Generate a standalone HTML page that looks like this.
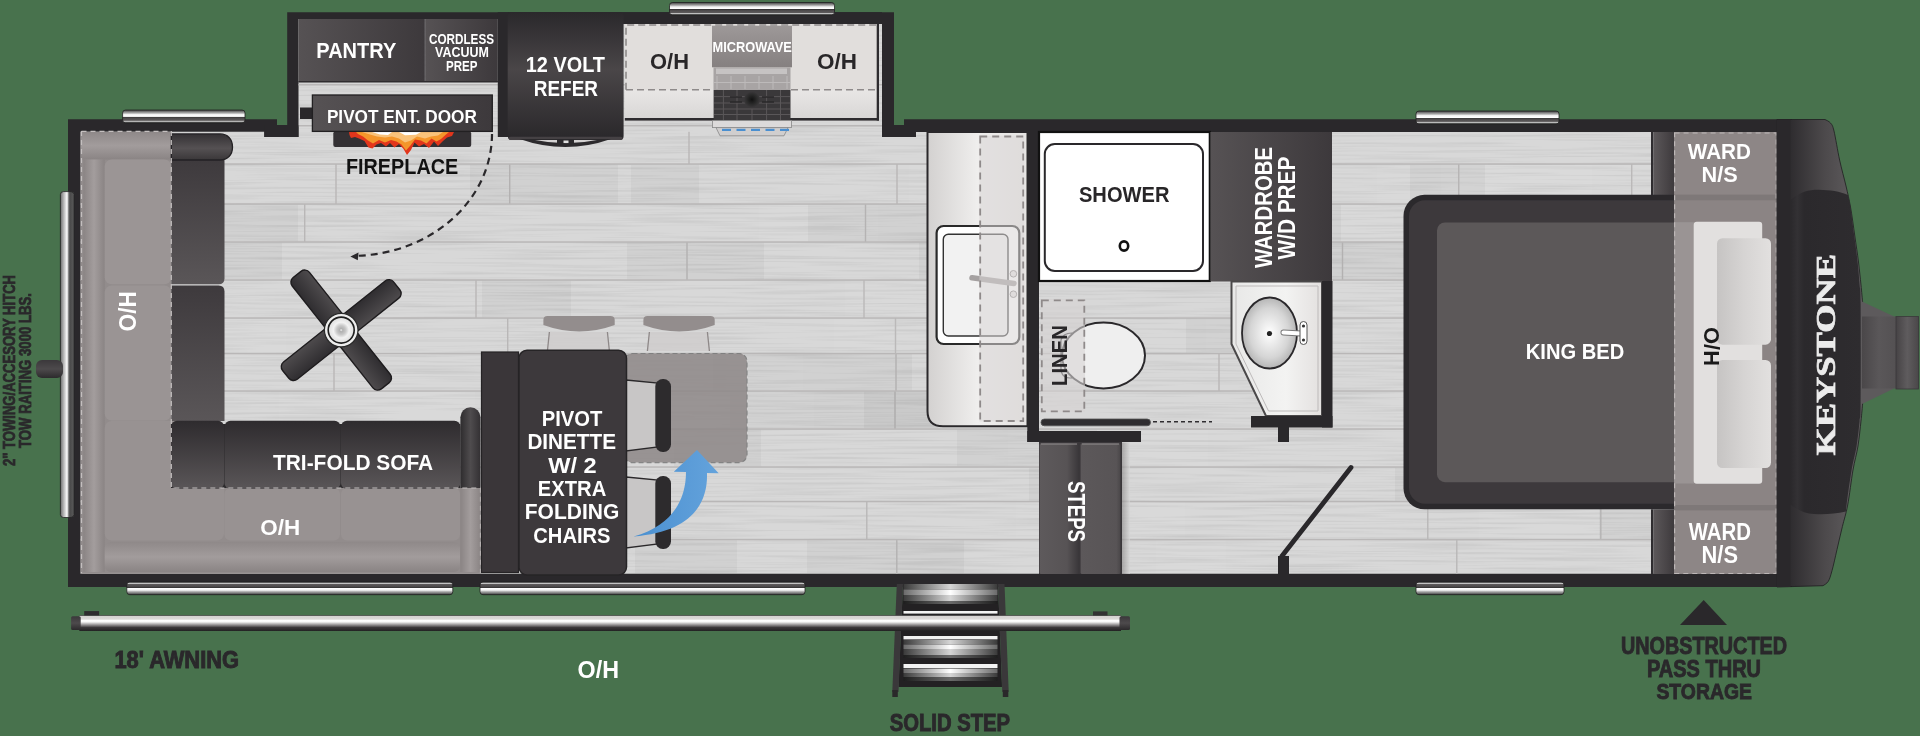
<!DOCTYPE html>
<html><head><meta charset="utf-8"><style>
html,body{margin:0;padding:0;background:#48724d;overflow:hidden;width:1920px;height:736px;}
svg{display:block;will-change:transform;}
</style></head><body><svg width="1920" height="736" viewBox="0 0 1920 736"><defs><linearGradient id="gWinH" x1="0" y1="0" x2="0" y2="1"><stop offset="0" stop-color="#333"/><stop offset="0.06" stop-color="#5a5a5a"/><stop offset="0.25" stop-color="#b5b5b5"/><stop offset="0.35" stop-color="#f2f2f2"/><stop offset="0.5" stop-color="#ffffff"/><stop offset="0.54" stop-color="#303030"/><stop offset="0.6" stop-color="#4a4748"/><stop offset="0.8" stop-color="#5c595a"/><stop offset="0.87" stop-color="#c8c8c8"/><stop offset="0.94" stop-color="#8a8a8a"/><stop offset="1" stop-color="#333"/></linearGradient><linearGradient id="gWinB" x1="0" y1="1" x2="0" y2="0"><stop offset="0" stop-color="#333"/><stop offset="0.06" stop-color="#5a5a5a"/><stop offset="0.25" stop-color="#b5b5b5"/><stop offset="0.35" stop-color="#f2f2f2"/><stop offset="0.5" stop-color="#ffffff"/><stop offset="0.54" stop-color="#303030"/><stop offset="0.6" stop-color="#4a4748"/><stop offset="0.8" stop-color="#5c595a"/><stop offset="0.87" stop-color="#c8c8c8"/><stop offset="0.94" stop-color="#8a8a8a"/><stop offset="1" stop-color="#333"/></linearGradient><linearGradient id="gWinV" x1="0" y1="0" x2="1" y2="0"><stop offset="0" stop-color="#6a6a6a"/><stop offset="0.15" stop-color="#9a9a9a"/><stop offset="0.5" stop-color="#ffffff"/><stop offset="0.6" stop-color="#8a8a8a"/><stop offset="0.7" stop-color="#4a4a4a"/><stop offset="0.92" stop-color="#555"/><stop offset="1" stop-color="#9a9a9a"/></linearGradient><linearGradient id="gDarkH" x1="0" y1="0" x2="1" y2="0"><stop offset="0" stop-color="#565254"/><stop offset="1" stop-color="#3d393c"/></linearGradient><linearGradient id="gRefer" x1="0" y1="0" x2="0" y2="1"><stop offset="0" stop-color="#2a282b"/><stop offset="0.45" stop-color="#4a4648"/><stop offset="1" stop-color="#29272a"/></linearGradient><linearGradient id="gSofa" x1="0" y1="0" x2="0" y2="1"><stop offset="0" stop-color="#2e2b2e"/><stop offset="1" stop-color="#5a5658"/></linearGradient><linearGradient id="gBack" x1="0" y1="0" x2="0" y2="1"><stop offset="0" stop-color="#3e3a3d"/><stop offset="1" stop-color="#5a5658"/></linearGradient><linearGradient id="gArmT" x1="0" y1="0" x2="0" y2="1"><stop offset="0" stop-color="#343134"/><stop offset="0.55" stop-color="#555153"/><stop offset="1" stop-color="#3a3739"/></linearGradient><linearGradient id="gArmV" x1="0" y1="0" x2="0" y2="1"><stop offset="0" stop-color="#3b383b"/><stop offset="0.5" stop-color="#4d4a4c"/><stop offset="1" stop-color="#2c2a2c"/></linearGradient><linearGradient id="gArmH" x1="0" y1="0" x2="1" y2="0"><stop offset="0" stop-color="#2e2c2e"/><stop offset="0.5" stop-color="#4f4c4e"/><stop offset="1" stop-color="#333033"/></linearGradient><linearGradient id="gCap" x1="0" y1="0" x2="1" y2="0"><stop offset="0" stop-color="#2b292c"/><stop offset="0.15" stop-color="#2e2c2f"/><stop offset="0.55" stop-color="#4c494b"/><stop offset="0.85" stop-color="#5c595b"/><stop offset="1" stop-color="#5e5b5d"/></linearGradient><linearGradient id="gPinM" x1="0" y1="0" x2="1" y2="0"><stop offset="0" stop-color="#4a4749"/><stop offset="0.5" stop-color="#5a5759"/><stop offset="1" stop-color="#545153"/></linearGradient><linearGradient id="gPin" x1="0" y1="0" x2="1" y2="0"><stop offset="0" stop-color="#3a373a"/><stop offset="1" stop-color="#6a6768"/></linearGradient><linearGradient id="gPin2" x1="0" y1="0" x2="1" y2="0"><stop offset="0" stop-color="#464345"/><stop offset="0.5" stop-color="#5f5c5e"/><stop offset="1" stop-color="#4a4749"/></linearGradient><linearGradient id="gPill" x1="0" y1="0" x2="1" y2="0"><stop offset="0" stop-color="#2a282b"/><stop offset="0.1" stop-color="#333134"/><stop offset="0.2" stop-color="#2b292c"/><stop offset="1" stop-color="#2e2c2f"/></linearGradient><linearGradient id="gAwn" x1="0" y1="0" x2="0" y2="1"><stop offset="0" stop-color="#222"/><stop offset="0.06" stop-color="#d5d2d1"/><stop offset="0.25" stop-color="#dcd9d8"/><stop offset="0.32" stop-color="#ffffff"/><stop offset="0.42" stop-color="#f8f8f8"/><stop offset="0.6" stop-color="#9a9798"/><stop offset="0.78" stop-color="#3a3739"/><stop offset="0.95" stop-color="#282628"/><stop offset="1" stop-color="#222"/></linearGradient><linearGradient id="gOHtop" x1="0" y1="0" x2="0" y2="1"><stop offset="0" stop-color="#8f8989"/><stop offset="0.5" stop-color="#a29c9c"/><stop offset="1" stop-color="#8a8484"/></linearGradient><linearGradient id="gOHleft" x1="0" y1="0" x2="1" y2="0"><stop offset="0" stop-color="#8a8484"/><stop offset="0.5" stop-color="#a39d9d"/><stop offset="1" stop-color="#8a8484"/></linearGradient><linearGradient id="gCounter" x1="0" y1="0" x2="1" y2="0"><stop offset="0" stop-color="#d3d1d0"/><stop offset="0.5" stop-color="#efeeed"/><stop offset="1" stop-color="#e6e4e3"/></linearGradient><linearGradient id="gMW" x1="0" y1="0" x2="0" y2="1"><stop offset="0" stop-color="#9d9898"/><stop offset="1" stop-color="#858080"/></linearGradient><linearGradient id="gStrip" x1="0" y1="0" x2="1" y2="0"><stop offset="0" stop-color="#5c585a"/><stop offset="1" stop-color="#3e3a3d"/></linearGradient><linearGradient id="gStep" x1="0" y1="0" x2="1" y2="0"><stop offset="0" stop-color="#5e5a5c"/><stop offset="0.7" stop-color="#575355"/><stop offset="1" stop-color="#3a373a"/></linearGradient><linearGradient id="gTread" x1="0" y1="0" x2="1" y2="0"><stop offset="0" stop-color="#3a3a3a"/><stop offset="0.25" stop-color="#8a8a8a"/><stop offset="0.5" stop-color="#f2f2f2"/><stop offset="0.75" stop-color="#8a8a8a"/><stop offset="1" stop-color="#3a3a3a"/></linearGradient><linearGradient id="gBlue" x1="0" y1="0" x2="1" y2="0"><stop offset="0" stop-color="#4a8fd0"/><stop offset="1" stop-color="#64a3dc"/></linearGradient><radialGradient id="gSink" cx="0.5" cy="0.5" r="0.5"><stop offset="0" stop-color="#ffffff"/><stop offset="0.7" stop-color="#d5d5d5"/><stop offset="1" stop-color="#b5b5b5"/></radialGradient><filter id="fGrain" x="0" y="0" width="100%" height="100%"><feTurbulence type="fractalNoise" baseFrequency="0.008 0.4" numOctaves="2" seed="4"/><feColorMatrix type="matrix" values="0 0 0 0 0  0 0 0 0 0  0 0 0 0 0  0 0 0 -2.2 1.25"/></filter><clipPath id="cFloor"><path d="M80.6,131.8 H264.3 V137 H298.5 V19 H882 V137 H916 V132 H1777.5 V573.8 H80.6 Z"/></clipPath><linearGradient id="gCtr" x1="0" y1="0" x2="0" y2="1"><stop offset="0" stop-color="#e8e6e5"/><stop offset="1" stop-color="#d9d7d6"/></linearGradient><radialGradient id="gBurner" cx="0.5" cy="0.5" r="0.5"><stop offset="0" stop-color="#111"/><stop offset="0.6" stop-color="#2a2a2a"/><stop offset="1" stop-color="#3a383a"/></radialGradient><linearGradient id="gVan" x1="0" y1="0" x2="1" y2="0"><stop offset="0" stop-color="#e8e8e7"/><stop offset="0.6" stop-color="#f3f3f2"/><stop offset="1" stop-color="#e3e0df"/></linearGradient><linearGradient id="gStepR" x1="0" y1="0" x2="1" y2="0"><stop offset="0" stop-color="#5c585a"/><stop offset="0.9" stop-color="#585456"/><stop offset="1" stop-color="#4a4749"/></linearGradient><linearGradient id="gShadowR" x1="0" y1="0" x2="1" y2="0"><stop offset="0" stop-color="#8a8888"/><stop offset="1" stop-color="#d8d8d8"/></linearGradient><linearGradient id="gPillow" x1="0" y1="0" x2="1" y2="0"><stop offset="0" stop-color="#c6c4c3"/><stop offset="0.5" stop-color="#d6d4d3"/><stop offset="1" stop-color="#e2e0df"/></linearGradient><linearGradient id="gTH1" x1="0" y1="0" x2="1" y2="0"><stop offset="0" stop-color="#1e1e1e"/><stop offset="0.5" stop-color="#6a6a6a"/><stop offset="1" stop-color="#1e1e1e"/></linearGradient><linearGradient id="gTH2" x1="0" y1="0" x2="1" y2="0"><stop offset="0" stop-color="#6a6a6a"/><stop offset="0.5" stop-color="#ffffff"/><stop offset="1" stop-color="#6a6a6a"/></linearGradient><linearGradient id="gTH3" x1="0" y1="0" x2="1" y2="0"><stop offset="0" stop-color="#3a3a3a"/><stop offset="0.5" stop-color="#d5d5d5"/><stop offset="1" stop-color="#3a3a3a"/></linearGradient><linearGradient id="gFanB" x1="0" y1="0" x2="0" y2="1"><stop offset="0" stop-color="#2f2d30"/><stop offset="1" stop-color="#4e4b4d"/></linearGradient><radialGradient id="gHub" cx="0.5" cy="0.5" r="0.5"><stop offset="0" stop-color="#f0f0f0"/><stop offset="0.12" stop-color="#b0b0b0"/><stop offset="0.35" stop-color="#c8c8c8"/><stop offset="0.6" stop-color="#f2f2f2"/><stop offset="1" stop-color="#dedede"/></radialGradient></defs><rect x="0.00" y="0.00" width="1920.00" height="736.00" fill="#48724d" /><path d="M68,119.3 H277 V125 H287.2 V12.2 H894 V125 H904 V119.3 H1792 V587 H68 Z" fill="#2a282b"/><path d="M80.6,131.8 H264.3 V137 H298.5 V19 H882 V137 H916 V132 H1777.5 V573.8 H80.6 Z" fill="#d8d8d8"/><g clip-path="url(#cFloor)"><rect x="80" y="19" width="1700" height="556" filter="url(#fGrain)" opacity="0.07"/></g><g><rect x="688.3" y="131.8" width="1.4" height="32.2" fill="#b9b7b7"/><rect x="80.6" y="163.3" width="1697" height="1.5" fill="#b9b7b7"/><rect x="335.3" y="164.0" width="1.4" height="40.0" fill="#b9b7b7"/><rect x="509.0" y="164.0" width="1.4" height="40.0" fill="#b9b7b7"/><rect x="896.3" y="164.0" width="1.4" height="40.0" fill="#b9b7b7"/><rect x="1458.0" y="164.0" width="1.4" height="40.0" fill="#b9b7b7"/><rect x="1631.0" y="164.0" width="1.4" height="40.0" fill="#b9b7b7"/><rect x="80.6" y="203.3" width="1697" height="1.5" fill="#b9b7b7"/><rect x="304.0" y="204.0" width="1.4" height="38.0" fill="#b9b7b7"/><rect x="864.8" y="204.0" width="1.4" height="38.0" fill="#b9b7b7"/><rect x="80.6" y="241.3" width="1697" height="1.5" fill="#b9b7b7"/><rect x="686.3" y="242.0" width="1.4" height="38.0" fill="#b9b7b7"/><rect x="1341.8" y="242.0" width="1.4" height="38.0" fill="#b9b7b7"/><rect x="80.6" y="279.3" width="1697" height="1.5" fill="#b9b7b7"/><rect x="475.3" y="280.0" width="1.4" height="38.0" fill="#b9b7b7"/><rect x="863.3" y="280.0" width="1.4" height="38.0" fill="#b9b7b7"/><rect x="80.6" y="317.3" width="1697" height="1.5" fill="#b9b7b7"/><rect x="507.0" y="318.0" width="1.4" height="35.5" fill="#b9b7b7"/><rect x="894.8" y="318.0" width="1.4" height="35.5" fill="#b9b7b7"/><rect x="80.6" y="352.8" width="1697" height="1.5" fill="#b9b7b7"/><rect x="333.3" y="353.5" width="1.4" height="37.5" fill="#b9b7b7"/><rect x="895.3" y="353.5" width="1.4" height="37.5" fill="#b9b7b7"/><rect x="1218.3" y="353.5" width="1.4" height="37.5" fill="#b9b7b7"/><rect x="80.6" y="390.3" width="1697" height="1.5" fill="#b9b7b7"/><rect x="894.3" y="391.0" width="1.4" height="38.0" fill="#b9b7b7"/><rect x="80.6" y="428.3" width="1697" height="1.5" fill="#b9b7b7"/><rect x="80.6" y="466.3" width="1697" height="1.5" fill="#b9b7b7"/><rect x="80.6" y="500.8" width="1697" height="1.5" fill="#b9b7b7"/><rect x="866.1" y="501.5" width="1.4" height="38.0" fill="#b9b7b7"/><rect x="1427.1" y="501.5" width="1.4" height="38.0" fill="#b9b7b7"/><rect x="1600.1" y="501.5" width="1.4" height="38.0" fill="#b9b7b7"/><rect x="80.6" y="538.8" width="1697" height="1.5" fill="#b9b7b7"/><rect x="896.1" y="539.5" width="1.4" height="34.5" fill="#b9b7b7"/><rect x="1456.1" y="539.5" width="1.4" height="34.5" fill="#b9b7b7"/><rect x="298.5" y="84" width="583.5" height="1.5" fill="#b9b7b7"/><rect x="298.5" y="125" width="583.5" height="1.5" fill="#b9b7b7"/><rect x="1616" y="318.8" width="123" height="33.9" fill="#000" opacity="0.03"/><rect x="1410" y="164.8" width="75" height="38.4" fill="#000" opacity="0.03"/><rect x="428" y="429.8" width="74" height="36.4" fill="#fff" opacity="0.03"/><rect x="470" y="164.8" width="148" height="38.4" fill="#000" opacity="0.03"/><rect x="281" y="467.8" width="96" height="32.9" fill="#000" opacity="0.03"/><rect x="1029" y="467.8" width="68" height="32.9" fill="#000" opacity="0.03"/><rect x="1471" y="429.8" width="106" height="36.4" fill="#000" opacity="0.03"/><rect x="271" y="429.8" width="109" height="36.4" fill="#000" opacity="0.03"/><rect x="1022" y="164.8" width="162" height="38.4" fill="#fff" opacity="0.03"/><rect x="967" y="164.8" width="70" height="38.4" fill="#000" opacity="0.03"/><rect x="414" y="467.8" width="169" height="32.9" fill="#fff" opacity="0.03"/><rect x="834" y="318.8" width="208" height="33.9" fill="#fff" opacity="0.03"/><rect x="482" y="280.8" width="89" height="36.4" fill="#000" opacity="0.03"/><rect x="1011" y="164.8" width="144" height="38.4" fill="#fff" opacity="0.03"/><rect x="807" y="540.3" width="157" height="32.9" fill="#000" opacity="0.03"/><rect x="909" y="164.8" width="86" height="38.4" fill="#fff" opacity="0.03"/><rect x="1592" y="204.8" width="127" height="36.4" fill="#000" opacity="0.03"/><rect x="1008" y="429.8" width="200" height="36.4" fill="#fff" opacity="0.03"/><rect x="1206" y="318.8" width="155" height="33.9" fill="#fff" opacity="0.03"/><rect x="1441" y="164.8" width="211" height="38.4" fill="#fff" opacity="0.03"/><rect x="1156" y="540.3" width="70" height="32.9" fill="#fff" opacity="0.03"/><rect x="1016" y="502.3" width="169" height="36.4" fill="#fff" opacity="0.03"/><rect x="1241" y="280.8" width="202" height="36.4" fill="#fff" opacity="0.03"/><rect x="656" y="391.8" width="158" height="36.4" fill="#fff" opacity="0.03"/><rect x="1325" y="242.8" width="81" height="36.4" fill="#000" opacity="0.03"/><rect x="713" y="354.3" width="199" height="35.9" fill="#000" opacity="0.03"/><rect x="808" y="204.8" width="148" height="36.4" fill="#000" opacity="0.03"/><rect x="1480" y="354.3" width="105" height="35.9" fill="#fff" opacity="0.03"/><rect x="1186" y="318.8" width="121" height="33.9" fill="#000" opacity="0.03"/><rect x="214" y="204.8" width="84" height="36.4" fill="#000" opacity="0.03"/><rect x="1426" y="391.8" width="89" height="36.4" fill="#fff" opacity="0.03"/><rect x="759" y="204.8" width="119" height="36.4" fill="#fff" opacity="0.03"/><rect x="1199" y="204.8" width="142" height="36.4" fill="#000" opacity="0.03"/><rect x="1537" y="391.8" width="185" height="36.4" fill="#fff" opacity="0.03"/><rect x="726" y="354.3" width="77" height="35.9" fill="#fff" opacity="0.03"/><rect x="189" y="242.8" width="93" height="36.4" fill="#000" opacity="0.03"/><rect x="631" y="164.8" width="68" height="38.4" fill="#000" opacity="0.03"/><rect x="325" y="467.8" width="76" height="32.9" fill="#fff" opacity="0.03"/><rect x="121" y="467.8" width="200" height="32.9" fill="#fff" opacity="0.03"/><rect x="1108" y="204.8" width="213" height="36.4" fill="#fff" opacity="0.03"/><rect x="279" y="391.8" width="196" height="36.4" fill="#fff" opacity="0.03"/><rect x="864" y="391.8" width="74" height="36.4" fill="#000" opacity="0.03"/><rect x="635" y="540.3" width="102" height="32.9" fill="#000" opacity="0.03"/><rect x="117" y="429.8" width="212" height="36.4" fill="#fff" opacity="0.03"/><rect x="1198" y="204.8" width="206" height="36.4" fill="#fff" opacity="0.03"/><rect x="1479" y="502.3" width="171" height="36.4" fill="#fff" opacity="0.03"/><rect x="674" y="429.8" width="87" height="36.4" fill="#000" opacity="0.03"/><rect x="957" y="429.8" width="140" height="36.4" fill="#000" opacity="0.03"/><rect x="1395" y="467.8" width="218" height="32.9" fill="#000" opacity="0.03"/><rect x="1406" y="242.8" width="178" height="36.4" fill="#000" opacity="0.03"/><rect x="919" y="242.8" width="117" height="36.4" fill="#000" opacity="0.03"/><rect x="845" y="280.8" width="91" height="36.4" fill="#fff" opacity="0.03"/><rect x="1390" y="391.8" width="176" height="36.4" fill="#fff" opacity="0.03"/><rect x="210" y="318.8" width="76" height="33.9" fill="#fff" opacity="0.03"/><rect x="627" y="242.8" width="137" height="36.4" fill="#000" opacity="0.03"/><rect x="1553" y="391.8" width="115" height="36.4" fill="#000" opacity="0.03"/><rect x="274" y="502.3" width="122" height="36.4" fill="#000" opacity="0.03"/><rect x="1520" y="391.8" width="129" height="36.4" fill="#fff" opacity="0.03"/><rect x="1377" y="164.8" width="215" height="38.4" fill="#fff" opacity="0.03"/><rect x="730" y="391.8" width="211" height="36.4" fill="#000" opacity="0.03"/><rect x="1689" y="204.8" width="64" height="36.4" fill="#fff" opacity="0.03"/><rect x="317" y="502.3" width="192" height="36.4" fill="#fff" opacity="0.03"/><rect x="1599" y="502.3" width="85" height="36.4" fill="#000" opacity="0.03"/></g><rect x="264.30" y="125.00" width="34.20" height="12.00" fill="#2a282b" /><rect x="882.00" y="125.00" width="34.00" height="12.00" fill="#2a282b" /><path d="M1777,119.5 L1825.0,119.5 C1825.9,120.1 1829.0,121.1 1830.5,123.0 C1832.0,124.9 1832.5,124.8 1834.0,131.0 C1835.5,137.2 1837.6,150.8 1839.6,160.0 C1841.6,169.2 1844.2,178.2 1846.0,186.0 C1847.8,193.8 1849.0,198.7 1850.5,207.0 C1852.0,215.3 1853.5,226.8 1854.8,236.0 C1856.1,245.2 1857.5,253.8 1858.5,262.0 C1859.5,270.2 1860.3,278.3 1861.0,285.0 C1861.7,291.7 1862.3,299.2 1862.6,302.0 L1862.6,404.0 C1862.3,406.8 1861.8,414.0 1861.0,421.0 C1860.2,428.0 1859.3,437.8 1858.0,446.0 C1856.7,454.2 1854.7,460.2 1853.0,470.0 C1851.3,479.8 1849.5,495.6 1847.7,505.0 C1845.9,514.4 1844.2,519.1 1842.4,526.5 C1840.6,533.9 1838.7,542.1 1837.0,549.5 C1835.3,556.9 1833.5,565.4 1832.0,570.7 C1830.5,576.0 1829.8,578.8 1828.3,581.3 C1826.8,583.8 1823.9,585.0 1823.0,585.7 L1777,587 Z" fill="url(#gCap)" stroke="#1e1d1f" stroke-width="0.8"/><path d="M1862,301.5 L1894,316.5 V388.5 L1862,404 Z" fill="#5d5a5c"/><rect x="1862.00" y="316.50" width="34.00" height="72.00" fill="url(#gPinM)" /><rect x="1896.00" y="316.50" width="22.60" height="72.50" fill="url(#gPin2)" stroke="#3a383a" stroke-width="0.8"/><path d="M1790.5,200 C1800,191.5 1810,189.6 1819,189.8 C1830,190 1840,191.5 1848,195 L1848.0,195.0 C1848.4,197.0 1849.5,200.2 1850.5,207.0 C1851.5,213.8 1853.1,226.8 1854.3,236.0 C1855.5,245.2 1856.7,253.8 1857.6,262.0 C1858.5,270.2 1859.1,278.3 1859.6,285.0 C1860.1,291.7 1860.4,282.2 1860.6,302.0 C1860.8,321.8 1860.8,384.2 1860.6,404.0 C1860.4,423.8 1860.3,414.0 1859.6,421.0 C1858.9,428.0 1857.9,437.8 1856.6,446.0 C1855.3,454.2 1853.3,460.2 1851.6,470.0 C1849.9,479.8 1847.4,498.1 1846.5,505.0 C1845.6,511.9 1846.1,510.4 1846.0,511.5 C1835,514 1825,514.5 1814,514 C1805,513.5 1797,510 1790.3,504.5 Z" fill="url(#gPill)"/><text transform="translate(1835.0,354.8) rotate(-90)" x="0" y="0" font-size="26.26" fill="#ebebeb" text-anchor="middle" font-family='"Liberation Serif", serif' font-weight="bold" textLength="201.6" lengthAdjust="spacingAndGlyphs" stroke="#ebebeb" stroke-width="0.7">KEYSTONE</text><rect x="298.50" y="19.00" width="125.80" height="63.00" fill="url(#gDarkH)" /><rect x="425.30" y="19.00" width="72.50" height="63.00" fill="url(#gDarkH)" /><rect x="424.30" y="19.00" width="1.00" height="63.00" fill="#2f2c2f" /><rect x="298.50" y="81.00" width="199.30" height="1.50" fill="#2f2c2f" /><text x="356.3" y="57.8" font-size="22.03" fill="#fff" text-anchor="middle" font-family='"Liberation Sans", sans-serif' font-weight="bold" textLength="80.0" lengthAdjust="spacingAndGlyphs" >PANTRY</text><text x="461.5" y="43.6" font-size="14.06" fill="#fff" text-anchor="middle" font-family='"Liberation Sans", sans-serif' font-weight="bold" textLength="65.0" lengthAdjust="spacingAndGlyphs" >CORDLESS</text><text x="461.9" y="57.3" font-size="14.06" fill="#fff" text-anchor="middle" font-family='"Liberation Sans", sans-serif' font-weight="bold" textLength="53.8" lengthAdjust="spacingAndGlyphs" >VACUUM</text><text x="461.8" y="71.0" font-size="14.06" fill="#fff" text-anchor="middle" font-family='"Liberation Sans", sans-serif' font-weight="bold" textLength="31.5" lengthAdjust="spacingAndGlyphs" >PREP</text><rect x="497.80" y="12.20" width="11.40" height="124.80" fill="#2a282b" /><rect x="508.00" y="12.20" width="374.00" height="11.80" fill="#2a282b" /><rect x="507.70" y="12.20" width="115.90" height="127.80" fill="url(#gRefer)" rx="4" /><rect x="508.50" y="136.70" width="114.30" height="3.30" fill="#454144" rx="2" /><path d="M519.6,139 Q565.3,155 611,139 Z" fill="#2c2a2d"/><path d="M535,140 Q566,146.5 597,140 Z" fill="#d4d2d2"/><rect x="557.00" y="139.80" width="17.00" height="3.80" fill="#2c2a2d" /><rect x="563.50" y="140.50" width="5.00" height="2.50" fill="#e0e0e0" /><text x="565.4" y="71.6" font-size="22.03" fill="#fff" text-anchor="middle" font-family='"Liberation Sans", sans-serif' font-weight="bold" textLength="79.2" lengthAdjust="spacingAndGlyphs" >12 VOLT</text><text x="565.9" y="96.1" font-size="22.03" fill="#fff" text-anchor="middle" font-family='"Liberation Sans", sans-serif' font-weight="bold" textLength="64.2" lengthAdjust="spacingAndGlyphs" >REFER</text><rect x="624.80" y="24.00" width="254.20" height="96.60" fill="#e1dedc" /><rect x="624.80" y="89.80" width="254.20" height="28.20" fill="url(#gCtr)" /><rect x="876.70" y="24.00" width="2.30" height="96.60" fill="#2e2c2f" /><rect x="624.80" y="118.00" width="254.20" height="2.60" fill="#2e2c2f" /><line x1="626" y1="89.8" x2="877" y2="89.8" stroke="#8e8a8a" stroke-width="1.6" stroke-dasharray="7,4"/><path d="M626,89.8 V25 H876" fill="none" stroke="#8e8a8a" stroke-width="1.6" stroke-dasharray="7,4"/><text x="669.5" y="68.6" font-size="21.30" fill="#282628" text-anchor="middle" font-family='"Liberation Sans", sans-serif' font-weight="bold" textLength="39.0" lengthAdjust="spacingAndGlyphs" >O/H</text><text x="837.0" y="68.6" font-size="21.30" fill="#282628" text-anchor="middle" font-family='"Liberation Sans", sans-serif' font-weight="bold" textLength="40.0" lengthAdjust="spacingAndGlyphs" >O/H</text><rect x="712.00" y="25.70" width="80.00" height="41.60" fill="url(#gMW)" /><rect x="713.50" y="67.30" width="77.00" height="22.70" fill="#a8a4a4" /><rect x="716.00" y="68.50" width="71.00" height="5.50" fill="#c6c3c3" /><line x1="717.0" y1="76" x2="717.0" y2="89" stroke="#bdbaba" stroke-width="1"/><line x1="731.0" y1="76" x2="731.0" y2="89" stroke="#bdbaba" stroke-width="1"/><line x1="745.0" y1="76" x2="745.0" y2="89" stroke="#bdbaba" stroke-width="1"/><line x1="759.0" y1="76" x2="759.0" y2="89" stroke="#bdbaba" stroke-width="1"/><line x1="773.0" y1="76" x2="773.0" y2="89" stroke="#bdbaba" stroke-width="1"/><line x1="787.0" y1="76" x2="787.0" y2="89" stroke="#bdbaba" stroke-width="1"/><line x1="714" y1="82.5" x2="790" y2="82.5" stroke="#bdbaba" stroke-width="1"/><rect x="713.60" y="90.00" width="76.90" height="30.50" fill="#3a383a" /><line x1="714" y1="96.6" x2="790" y2="96.6" stroke="#5a5759" stroke-width="1"/><line x1="714" y1="103" x2="790" y2="103" stroke="#5a5759" stroke-width="1"/><line x1="714" y1="109" x2="790" y2="109" stroke="#5a5759" stroke-width="1"/><line x1="714" y1="114.5" x2="790" y2="114.5" stroke="#5a5759" stroke-width="1"/><line x1="723.4" y1="90" x2="723.4" y2="96.6" stroke="#5a5759" stroke-width="1"/><line x1="737" y1="90" x2="737" y2="96.6" stroke="#5a5759" stroke-width="1"/><line x1="766.6" y1="90" x2="766.6" y2="96.6" stroke="#5a5759" stroke-width="1"/><line x1="780.5" y1="90" x2="780.5" y2="96.6" stroke="#5a5759" stroke-width="1"/><line x1="723.4" y1="96.6" x2="723.4" y2="103" stroke="#5a5759" stroke-width="1"/><line x1="737" y1="96.6" x2="737" y2="103" stroke="#5a5759" stroke-width="1"/><line x1="766.6" y1="96.6" x2="766.6" y2="103" stroke="#5a5759" stroke-width="1"/><line x1="780.5" y1="96.6" x2="780.5" y2="103" stroke="#5a5759" stroke-width="1"/><line x1="723.4" y1="103" x2="723.4" y2="109" stroke="#5a5759" stroke-width="1"/><line x1="737" y1="103" x2="737" y2="109" stroke="#5a5759" stroke-width="1"/><line x1="766.6" y1="103" x2="766.6" y2="109" stroke="#5a5759" stroke-width="1"/><line x1="780.5" y1="103" x2="780.5" y2="109" stroke="#5a5759" stroke-width="1"/><line x1="723.4" y1="109" x2="723.4" y2="114.5" stroke="#5a5759" stroke-width="1"/><line x1="737" y1="109" x2="737" y2="114.5" stroke="#5a5759" stroke-width="1"/><line x1="752" y1="109" x2="752" y2="114.5" stroke="#5a5759" stroke-width="1"/><line x1="766.6" y1="109" x2="766.6" y2="114.5" stroke="#5a5759" stroke-width="1"/><line x1="780.5" y1="109" x2="780.5" y2="114.5" stroke="#5a5759" stroke-width="1"/><line x1="723.4" y1="114.5" x2="723.4" y2="120.5" stroke="#5a5759" stroke-width="1"/><line x1="737" y1="114.5" x2="737" y2="120.5" stroke="#5a5759" stroke-width="1"/><line x1="752" y1="114.5" x2="752" y2="120.5" stroke="#5a5759" stroke-width="1"/><line x1="766.6" y1="114.5" x2="766.6" y2="120.5" stroke="#5a5759" stroke-width="1"/><line x1="780.5" y1="114.5" x2="780.5" y2="120.5" stroke="#5a5759" stroke-width="1"/><path d="M730,97 H742 M730,102 H742 M762,97 H774 M762,102 H774" stroke="#2a282a" stroke-width="1.6"/><circle cx="752" cy="99.5" r="8" fill="url(#gBurner)"/><rect x="712.50" y="120.50" width="79.00" height="7.10" fill="#dcdada" stroke="#888" stroke-width="0.8"/><path d="M716,127.6 H788 L784,135.8 H720 Z" fill="#d0cece" stroke="#888" stroke-width="0.8"/><rect x="722.00" y="128.80" width="9.00" height="2.20" fill="#4a8fd0" /><rect x="736.50" y="128.80" width="9.00" height="2.20" fill="#4a8fd0" /><rect x="751.00" y="128.80" width="9.00" height="2.20" fill="#4a8fd0" /><rect x="765.50" y="128.80" width="9.00" height="2.20" fill="#4a8fd0" /><rect x="780.00" y="128.80" width="9.00" height="2.20" fill="#4a8fd0" /><text x="752.2" y="51.7" font-size="13.77" fill="#fff" text-anchor="middle" font-family='"Liberation Sans", sans-serif' font-weight="bold" textLength="79.2" lengthAdjust="spacingAndGlyphs" >MICROWAVE</text><rect x="300.00" y="107.50" width="12.40" height="11.50" fill="#2a282b" /><rect x="333.30" y="131.40" width="137.90" height="15.60" fill="#343134" rx="2" /><g><path d="M349,132 L454,132 L452,136 L447,137.5 L443,141 L438,146 L434,141.5 L429,148 L424,144 L419,146.5 L414.5,142.5 L411,150 L407,155 L403.5,149 L399,144 L394.5,147.5 L390,143 L386,146.5 L381,143 L376.5,144.5 L372.5,148.5 L368.5,147.5 L364.5,141 L359,138.5 L355,137 L351,138 L349.5,135 Z" fill="#e2361c"/><path d="M356,132 L449,132 L446,134.5 L441,139 L436.5,141.5 L431.5,138.5 L426.5,143.5 L421,140.5 L415,139.5 L410,146 L406,150.5 L401.5,144.5 L396.5,141.5 L391,140 L385,142.5 L379,140 L373,143.5 L368,140.5 L363,136.5 L358,134 Z" fill="#f4962b"/><path d="M362,132 L443,132 L438,135.5 L431,136.5 L425,138.5 L417,136.5 L411,140.5 L405,142.5 L399,138.5 L392,136.5 L385,137.5 L377,136.5 L370,134.5 Z" fill="#f9c27a"/><path d="M372,132 L392,132 L388,135 L380,134.5 Z M399,132 L421,132 L416,134.8 L405,135.2 Z" fill="#ffffff"/></g><rect x="312.40" y="95.00" width="179.90" height="36.40" fill="url(#gDarkH)" stroke="#222022" stroke-width="1.3"/><text x="401.9" y="123.4" font-size="18.41" fill="#fff" text-anchor="middle" font-family='"Liberation Sans", sans-serif' font-weight="bold" textLength="150.0" lengthAdjust="spacingAndGlyphs" >PIVOT ENT. DOOR</text><text x="402.1" y="173.5" font-size="21.45" fill="#111111" text-anchor="middle" font-family='"Liberation Sans", sans-serif' font-weight="bold" textLength="112.3" lengthAdjust="spacingAndGlyphs" >FIREPLACE</text><path d="M492,134 A140,122 0 0 1 357,255.8" fill="none" stroke="#2a282b" stroke-width="2.2" stroke-dasharray="7,5"/><path d="M350.4,256.5 L358.5,252.5 L357.8,260.2 Z" fill="#2a282b"/><g><path d="M80.6,131.8 H171.3 V488 H480.5 V573.8 H80.6 Z" fill="#928c8c"/></g><rect x="81.00" y="132.00" width="90.30" height="27.50" fill="url(#gOHtop)" /><rect x="83.30" y="159.50" width="21.40" height="412.50" fill="url(#gOHleft)" /><rect x="104.70" y="159.50" width="66.60" height="124.80" fill="#9b9595" rx="7" /><rect x="104.70" y="285.50" width="66.60" height="135.00" fill="#9a9494" rx="7" /><rect x="104.70" y="421.00" width="119.30" height="119.60" fill="#989292" rx="7" /><rect x="224.50" y="488.00" width="115.50" height="52.60" fill="#989292" rx="6" /><rect x="341.00" y="488.00" width="119.00" height="52.60" fill="#989292" rx="6" /><rect x="104.70" y="542.00" width="355.30" height="30.00" fill="url(#gOHtop)" rx="6" /><rect x="460.40" y="488.00" width="20.10" height="84.00" fill="url(#gOHleft)" /><path d="M171.3,159.5 H224.5 V278.3 Q224.5,284.3 218.5,284.3 H171.3 Z" fill="url(#gBack)"/><path d="M171.3,285.5 H218.5 Q224.5,285.5 224.5,291.5 V421 H171.3 Z" fill="url(#gBack)"/><path d="M171.3,133.9 H220 C227.5,133.9 232.5,139 232.5,147 C232.5,155 227.5,160 220,160 H171.3 Z" fill="url(#gArmT)" stroke="#232124" stroke-width="1.3"/><rect x="171.00" y="424.00" width="289.40" height="64.00" fill="#2c2a2c" /><rect x="171.00" y="420.80" width="53.00" height="68.20" fill="url(#gSofa)" rx="6" /><rect x="224.50" y="420.80" width="116.00" height="68.20" fill="url(#gSofa)" rx="6" /><rect x="341.00" y="420.80" width="119.40" height="68.20" fill="url(#gSofa)" rx="6" /><path d="M460.4,488 V417.3 A10,10 0 0 1 480.5,417.3 V488 Z" fill="url(#gArmH)"/><path d="M81.5,131 V573 M171.3,131 V488 H480.5 V573" fill="none" stroke="#c4bfbf" stroke-width="1.2" stroke-dasharray="5,4"/><path d="M81.5,131.3 H171.3" fill="none" stroke="#c4bfbf" stroke-width="1.2" stroke-dasharray="5,4"/><text x="353.1" y="469.7" font-size="22.32" fill="#fff" text-anchor="middle" font-family='"Liberation Sans", sans-serif' font-weight="bold" textLength="160.2" lengthAdjust="spacingAndGlyphs" >TRI-FOLD SOFA</text><text x="280.2" y="534.5" font-size="21.16" fill="#fff" text-anchor="middle" font-family='"Liberation Sans", sans-serif' font-weight="bold" textLength="39.9" lengthAdjust="spacingAndGlyphs" >O/H</text><text transform="translate(136.2,311.2) rotate(-90)" x="0" y="0" font-size="23.04" fill="#fff" text-anchor="middle" font-family='"Liberation Sans", sans-serif' font-weight="bold" textLength="40.4" lengthAdjust="spacingAndGlyphs" >O/H</text><path d="M549.4,332 L547.4,351 H609.4 L607.4,332 Z" fill="#cfcdcd" opacity="0.8"/><path d="M549.4,332 L547.4,351 M607.4,332 L609.4,351" stroke="#8e8888" stroke-width="1.3"/><path d="M543.4,320 Q543.4,316 547.4,316 H610.4 Q614.6999999999999,316 614.6999999999999,320 V325 Q579.4,338 543.4,325 Z" fill="#938d8d"/><path d="M649.4,332 L647.4,351 H709.4 L707.4,332 Z" fill="#cfcdcd" opacity="0.8"/><path d="M649.4,332 L647.4,351 M707.4,332 L709.4,351" stroke="#8e8888" stroke-width="1.3"/><path d="M643.4,320 Q643.4,316 647.4,316 H710.4 Q714.6999999999999,316 714.6999999999999,320 V325 Q679.4,338 643.4,325 Z" fill="#938d8d"/><rect x="624.50" y="353.50" width="122.50" height="109.10" fill="#8e8888" rx="8" opacity="0.85" stroke="#777" stroke-width="1.2" stroke-dasharray="5,3"/><rect x="481.50" y="352.00" width="37.00" height="220.50" fill="#3a3639" stroke="#252325" stroke-width="1.2"/><path d="M626,380 L658,383 V447 L626,451 Z" fill="#c8c6c6" stroke="#2a282a" stroke-width="1.3"/><rect x="655.30" y="379.00" width="15.70" height="73.00" fill="#2d2b2d" rx="7.5" /><path d="M626,477 L658,480 V544 L626,548 Z" fill="#c8c6c6" stroke="#2a282a" stroke-width="1.3"/><rect x="655.30" y="476.00" width="15.70" height="73.00" fill="#2d2b2d" rx="7.5" /><rect x="519.00" y="350.30" width="107.50" height="224.70" fill="#3d393c" rx="8" stroke="#262426" stroke-width="1.5"/><text x="572.0" y="426.0" font-size="21.45" fill="#fff" text-anchor="middle" font-family='"Liberation Sans", sans-serif' font-weight="bold" textLength="60.7" lengthAdjust="spacingAndGlyphs" >PIVOT</text><text x="571.7" y="449.3" font-size="21.45" fill="#fff" text-anchor="middle" font-family='"Liberation Sans", sans-serif' font-weight="bold" textLength="88.6" lengthAdjust="spacingAndGlyphs" >DINETTE</text><text x="572.5" y="472.6" font-size="21.45" fill="#fff" text-anchor="middle" font-family='"Liberation Sans", sans-serif' font-weight="bold" textLength="48.5" lengthAdjust="spacingAndGlyphs" >W/ 2</text><text x="572.0" y="495.9" font-size="21.45" fill="#fff" text-anchor="middle" font-family='"Liberation Sans", sans-serif' font-weight="bold" textLength="68.5" lengthAdjust="spacingAndGlyphs" >EXTRA</text><text x="572.0" y="519.2" font-size="21.45" fill="#fff" text-anchor="middle" font-family='"Liberation Sans", sans-serif' font-weight="bold" textLength="94.5" lengthAdjust="spacingAndGlyphs" >FOLDING</text><text x="571.9" y="542.5" font-size="21.45" fill="#fff" text-anchor="middle" font-family='"Liberation Sans", sans-serif' font-weight="bold" textLength="77.2" lengthAdjust="spacingAndGlyphs" >CHAIRS</text><path d="M633.5,536.5 C690,532 708,505 707,473 L718.7,473.2 L697,450 L673.8,471.8 L686,472 C686,500 672,526 633.5,536.5 Z" fill="url(#gBlue)"/><path d="M927.5,132 H1027.5 V426.3 H943 Q927.5,426.3 927.5,411 Z" fill="url(#gCounter)" stroke="#2a282b" stroke-width="2"/><rect x="936.60" y="226.00" width="82.70" height="118.00" fill="#ffffff" rx="7" stroke="#2a2a2a" stroke-width="2.2"/><rect x="943.30" y="234.30" width="64.70" height="101.70" fill="#f2f2f2" rx="5" stroke="#333" stroke-width="1.4"/><line x1="972" y1="277.8" x2="1014" y2="283.5" stroke="#a5a1a1" stroke-width="5.5" stroke-linecap="round"/><circle cx="1013.4" cy="273.8" r="3.3" fill="#e6e4e4" stroke="#8a8686" stroke-width="1"/><circle cx="1013.4" cy="294.2" r="3.3" fill="#e6e4e4" stroke="#8a8686" stroke-width="1"/><rect x="979.40" y="135.70" width="44.60" height="285.80" fill="#d9d6d5" opacity="0.55"/><rect x="980.2" y="136.5" width="43" height="284.5" fill="none" stroke="#8f8a8a" stroke-width="1.8" stroke-dasharray="7,5"/><rect x="1027.30" y="132.00" width="11.70" height="310.00" fill="#2a282b" /><rect x="1027.30" y="431.00" width="113.70" height="11.00" fill="#2a282b" /><rect x="1039.00" y="132.00" width="170.80" height="149.00" fill="#ffffff" stroke="#111" stroke-width="2.2"/><rect x="1044.80" y="144.00" width="158.20" height="127.00" fill="none" rx="10" stroke="#2a282b" stroke-width="2"/><text x="1124.2" y="201.8" font-size="21.16" fill="#282628" text-anchor="middle" font-family='"Liberation Sans", sans-serif' font-weight="bold" textLength="90.5" lengthAdjust="spacingAndGlyphs" >SHOWER</text><ellipse cx="1124" cy="246" rx="4.2" ry="4.6" fill="none" stroke="#111" stroke-width="2.6"/><rect x="1210.50" y="132.00" width="121.50" height="149.50" fill="url(#gDarkH)" /><text transform="translate(1271.5,207.5) rotate(-90)" x="0" y="0" font-size="23.19" fill="#fff" text-anchor="middle" font-family='"Liberation Sans", sans-serif' font-weight="bold" textLength="121.0" lengthAdjust="spacingAndGlyphs" >WARDROBE</text><text transform="translate(1295.4,208.1) rotate(-90)" x="0" y="0" font-size="23.04" fill="#fff" text-anchor="middle" font-family='"Liberation Sans", sans-serif' font-weight="bold" textLength="102.8" lengthAdjust="spacingAndGlyphs" >W/D PREP</text><path d="M1231.5,281.5 H1322 V416 H1266 L1231.5,344 Z" fill="url(#gVan)" stroke="#4a4849" stroke-width="2"/><path d="M1236,286 H1318 V411 H1268.5 L1236,344 Z" fill="none" stroke="#bdbaba" stroke-width="1"/><rect x="1322.00" y="281.00" width="10.50" height="146.50" fill="#2a282b" /><rect x="1251.00" y="416.00" width="81.50" height="11.50" fill="#2a282b" /><rect x="1278.00" y="427.00" width="11.00" height="15.00" fill="#2a282b" /><ellipse cx="1269.5" cy="333" rx="27.5" ry="35.5" fill="url(#gSink)" stroke="#2a282b" stroke-width="1.8"/><circle cx="1269.5" cy="333.5" r="2.6" fill="#222"/><line x1="1283.5" y1="332.5" x2="1301" y2="333.5" stroke="#777" stroke-width="6" stroke-linecap="round"/><line x1="1283.5" y1="332.5" x2="1301" y2="333.5" stroke="#fff" stroke-width="4.2" stroke-linecap="round"/><rect x="1300.00" y="321.50" width="7.00" height="23.00" fill="#fff" rx="3.5" stroke="#555" stroke-width="1"/><circle cx="1303.5" cy="326" r="1.6" fill="#333"/><circle cx="1303.5" cy="340" r="1.6" fill="#333"/><path d="M1061,340 V371 Q1063,378 1070,378 H1072 V333 Q1063,333 1061,340 Z" fill="#dcdcdc" stroke="#2a282b" stroke-width="1.2"/><ellipse cx="1103.5" cy="355.5" rx="41.5" ry="33" fill="#efefef" stroke="#2a282b" stroke-width="2"/><rect x="1041.00" y="299.50" width="44.00" height="112.50" fill="#d7d4d3" opacity="0.6"/><rect x="1041.8" y="300.3" width="42.5" height="111" fill="none" stroke="#8f8a8a" stroke-width="1.8" stroke-dasharray="7,5"/><text transform="translate(1066.8,355.5) rotate(-90)" x="0" y="0" font-size="22.46" fill="#282628" text-anchor="middle" font-family='"Liberation Sans", sans-serif' font-weight="bold" textLength="61.0" lengthAdjust="spacingAndGlyphs" >LINEN</text><rect x="1041.00" y="419.00" width="109.50" height="6.80" fill="#2f2d30" rx="3.4" stroke="#555" stroke-width="0.8"/><line x1="1153" y1="421.8" x2="1212" y2="421.8" stroke="#2f2d30" stroke-width="1.5" stroke-dasharray="4,3"/><rect x="1039.00" y="442.00" width="83.00" height="132.00" fill="#3a373a" /><rect x="1122.00" y="442.50" width="8.00" height="131.50" fill="url(#gShadowR)" opacity="0.6"/><rect x="1039.60" y="443.20" width="39.10" height="130.80" fill="url(#gStep)" rx="1.5" /><rect x="1080.60" y="443.20" width="39.80" height="130.80" fill="url(#gStepR)" rx="1.5" /><rect x="1041.00" y="443.50" width="36.00" height="1.10" fill="#8a8687" /><rect x="1082.00" y="443.50" width="37.00" height="1.10" fill="#8a8687" /><text transform="translate(1067.7,511.5) rotate(90)" x="0" y="0" font-size="24.78" fill="#fff" text-anchor="middle" font-family='"Liberation Sans", sans-serif' font-weight="bold" textLength="61.0" lengthAdjust="spacingAndGlyphs" >STEPS</text><line x1="1282" y1="556" x2="1351" y2="467.5" stroke="#2a282b" stroke-width="4.8" stroke-linecap="round"/><rect x="1278.00" y="556.00" width="11.00" height="18.00" fill="#2a282b" /><rect x="1651.00" y="132.00" width="2.40" height="64.00" fill="#2f2d30" /><rect x="1653.40" y="132.00" width="20.60" height="64.00" fill="url(#gStrip)" /><rect x="1651.00" y="509.30" width="2.40" height="64.70" fill="#2f2d30" /><rect x="1653.40" y="509.30" width="20.60" height="64.70" fill="url(#gStrip)" /><rect x="1403.50" y="194.80" width="356.50" height="314.50" fill="#2b292c" rx="21" /><rect x="1409.00" y="200.30" width="351.00" height="303.50" fill="#3d393c" rx="16" /><rect x="1437.00" y="222.50" width="263.00" height="259.70" fill="#5c5859" rx="8" /><text x="1575.0" y="359.1" font-size="22.03" fill="#fff" text-anchor="middle" font-family='"Liberation Sans", sans-serif' font-weight="bold" textLength="98.4" lengthAdjust="spacingAndGlyphs" >KING BED</text><rect x="1674.00" y="132.00" width="103.00" height="442.00" fill="#8b8484" /><rect x="1674.00" y="132.00" width="103.00" height="62.70" fill="#8d8686" /><rect x="1674.00" y="510.30" width="103.00" height="63.70" fill="#8d8686" /><rect x="1674.00" y="194.70" width="103.00" height="5.60" fill="#7e7878" /><rect x="1674.00" y="505.00" width="103.00" height="5.30" fill="#7e7878" /><rect x="1674.00" y="222.20" width="20.00" height="261.30" fill="#9a9494" /><rect x="1693.70" y="221.80" width="68.50" height="262.00" fill="#e2e0df" rx="3" /><rect x="1717.00" y="238.20" width="54.00" height="106.50" fill="url(#gPillow)" rx="5.5" /><rect x="1717.00" y="360.00" width="54.00" height="108.00" fill="url(#gPillow)" rx="5.5" /><rect x="1674.6" y="133" width="101.6" height="440.5" fill="none" stroke="#bdb7b7" stroke-width="1.2" stroke-dasharray="5,4"/><text x="1719.4" y="158.6" font-size="21.45" fill="#fff" text-anchor="middle" font-family='"Liberation Sans", sans-serif' font-weight="bold" textLength="63.2" lengthAdjust="spacingAndGlyphs" >WARD</text><text x="1719.7" y="182.0" font-size="21.45" fill="#fff" text-anchor="middle" font-family='"Liberation Sans", sans-serif' font-weight="bold" textLength="36.2" lengthAdjust="spacingAndGlyphs" >N/S</text><text x="1719.8" y="539.6" font-size="23.48" fill="#fff" text-anchor="middle" font-family='"Liberation Sans", sans-serif' font-weight="bold" textLength="62.3" lengthAdjust="spacingAndGlyphs" >WARD</text><text x="1719.8" y="562.6" font-size="24.06" fill="#fff" text-anchor="middle" font-family='"Liberation Sans", sans-serif' font-weight="bold" textLength="36.4" lengthAdjust="spacingAndGlyphs" >N/S</text><text transform="translate(1704.3,346.5) rotate(90)" x="0" y="0" font-size="21.30" fill="#1a1a1a" text-anchor="middle" font-family='"Liberation Sans", sans-serif' font-weight="bold" textLength="39.0" lengthAdjust="spacingAndGlyphs" >O/H</text><rect x="1776.50" y="119.50" width="14.00" height="467.50" fill="#2a282b" /><rect x="122.60" y="110.00" width="122.40" height="12.90" fill="url(#gWinH)" rx="3" stroke="#222" stroke-width="0.8"/><rect x="669.50" y="2.50" width="165.00" height="12.50" fill="url(#gWinH)" rx="3" stroke="#222" stroke-width="0.8"/><rect x="1416.00" y="111.00" width="143.00" height="13.00" fill="url(#gWinH)" rx="3" stroke="#222" stroke-width="0.8"/><rect x="60.40" y="191.60" width="13.40" height="325.90" fill="url(#gWinV)" rx="3" stroke="#222" stroke-width="0.8"/><rect x="126.80" y="581.90" width="326.00" height="12.80" fill="url(#gWinB)" rx="3" stroke="#222" stroke-width="0.8"/><rect x="480.00" y="581.90" width="325.00" height="12.80" fill="url(#gWinB)" rx="3" stroke="#222" stroke-width="0.8"/><rect x="1416.00" y="581.90" width="148.00" height="12.80" fill="url(#gWinB)" rx="3" stroke="#222" stroke-width="0.8"/><rect x="36.00" y="360.00" width="27.00" height="18.00" fill="url(#gArmV)" rx="6" /><g><path d="M903,584 H998 L1002,687 H898.5 Z" fill="#232123"/><rect x="903.5" y="584" width="94" height="5.5" fill="url(#gTH3)"/><rect x="903.5" y="589.5" width="94" height="5.5" fill="url(#gTH2)"/><rect x="903.5" y="595" width="94" height="6" fill="url(#gTH3)"/><rect x="903.5" y="601" width="94" height="3" fill="url(#gTH1)"/><rect x="903.5" y="640" width="94" height="4.600000000000023" fill="url(#gTH3)"/><rect x="903.5" y="644.6" width="94" height="4.399999999999977" fill="url(#gTH2)"/><rect x="903.5" y="649" width="94" height="6" fill="url(#gTH3)"/><rect x="903.5" y="655" width="94" height="3" fill="url(#gTH1)"/><rect x="903.5" y="668.5" width="94" height="4.5" fill="url(#gTH2)"/><rect x="903.5" y="673" width="94" height="4" fill="url(#gTH3)"/><rect x="903.5" y="677" width="94" height="4" fill="url(#gTH1)"/><rect x="903.5" y="611" width="94" height="2.6000000000000227" fill="#f2f2f2"/><rect x="903.5" y="636" width="94" height="3.3999999999999773" fill="#f2f2f2"/><rect x="903.5" y="664" width="94" height="4" fill="#f2f2f2"/><path d="M896.8,584 H903 L898.5,692 H892.3 Z" fill="#3a383a"/><path d="M998,584 H1004.5 L1008.7,692 H1002.3 Z" fill="#3a383a"/><rect x="892.3" y="690" width="5.5" height="7" fill="#2a282a"/><rect x="1002.8" y="690" width="5.5" height="7" fill="#2a282a"/></g><rect x="79.30" y="615.20" width="1041.70" height="15.80" fill="url(#gAwn)" /><rect x="71.10" y="616.30" width="9.60" height="13.70" fill="url(#gArmV)" rx="1.5" /><rect x="1119.50" y="616.30" width="10.50" height="13.70" fill="url(#gArmV)" rx="1.5" /><rect x="84.20" y="611.10" width="14.90" height="4.30" fill="#2e2c2e" /><rect x="1093.00" y="611.40" width="14.50" height="4.10" fill="#333" /><rect x="4" y="-11" width="67" height="22" rx="6" fill="url(#gFanB)" stroke="#1e1c1e" stroke-width="1.4" transform="translate(341.2,330.1) rotate(-38.6)"/><rect x="4" y="-11" width="67" height="22" rx="6" fill="url(#gFanB)" stroke="#1e1c1e" stroke-width="1.4" transform="translate(341.2,330.1) rotate(51.6)"/><rect x="4" y="-11" width="67" height="22" rx="6" fill="url(#gFanB)" stroke="#1e1c1e" stroke-width="1.4" transform="translate(341.2,330.1) rotate(141.4)"/><rect x="4" y="-11" width="67" height="22" rx="6" fill="url(#gFanB)" stroke="#1e1c1e" stroke-width="1.4" transform="translate(341.2,330.1) rotate(231.6)"/><circle cx="341.2" cy="330.1" r="16.8" fill="#ededed" stroke="#2a2a2a" stroke-width="1.2"/><circle cx="341.2" cy="330.1" r="13" fill="url(#gHub)" stroke="#1e1e1e" stroke-width="1.6"/><text x="176.7" y="667.8" font-size="23.48" fill="#2a282b" text-anchor="middle" font-family='"Liberation Sans", sans-serif' font-weight="bold" textLength="124.6" lengthAdjust="spacingAndGlyphs" stroke="#2a282b" stroke-width="0.9">18' AWNING</text><text x="598.3" y="678.4" font-size="23.48" fill="#fff" text-anchor="middle" font-family='"Liberation Sans", sans-serif' font-weight="bold" textLength="41.4" lengthAdjust="spacingAndGlyphs" >O/H</text><text x="949.9" y="730.8" font-size="23.33" fill="#2a282b" text-anchor="middle" font-family='"Liberation Sans", sans-serif' font-weight="bold" textLength="120.3" lengthAdjust="spacingAndGlyphs" stroke="#2a282b" stroke-width="0.9">SOLID STEP</text><path d="M1680,625 L1727,625 L1703.7,600 Z" fill="#2a282b"/><text x="1704.0" y="653.8" font-size="24.06" fill="#2a282b" text-anchor="middle" font-family='"Liberation Sans", sans-serif' font-weight="bold" textLength="166.0" lengthAdjust="spacingAndGlyphs" stroke="#2a282b" stroke-width="0.9">UNOBSTRUCTED</text><text x="1704.0" y="676.8" font-size="24.06" fill="#2a282b" text-anchor="middle" font-family='"Liberation Sans", sans-serif' font-weight="bold" textLength="114.0" lengthAdjust="spacingAndGlyphs" stroke="#2a282b" stroke-width="0.9">PASS THRU</text><text x="1704.2" y="699.0" font-size="22.90" fill="#2a282b" text-anchor="middle" font-family='"Liberation Sans", sans-serif' font-weight="bold" textLength="95.5" lengthAdjust="spacingAndGlyphs" stroke="#2a282b" stroke-width="0.9">STORAGE</text><text transform="translate(15.0,370.5) rotate(-90)" x="0" y="0" font-size="17.39" fill="#2a282b" text-anchor="middle" font-family='"Liberation Sans", sans-serif' font-weight="bold" textLength="191.0" lengthAdjust="spacingAndGlyphs" stroke="#2a282b" stroke-width="0.8">2&quot; TOWING/ACCESORY HITCH</text><text transform="translate(31.4,370.5) rotate(-90)" x="0" y="0" font-size="17.39" fill="#2a282b" text-anchor="middle" font-family='"Liberation Sans", sans-serif' font-weight="bold" textLength="155.0" lengthAdjust="spacingAndGlyphs" stroke="#2a282b" stroke-width="0.8">TOW RAITING 3000 LBS.</text></svg></body></html>
